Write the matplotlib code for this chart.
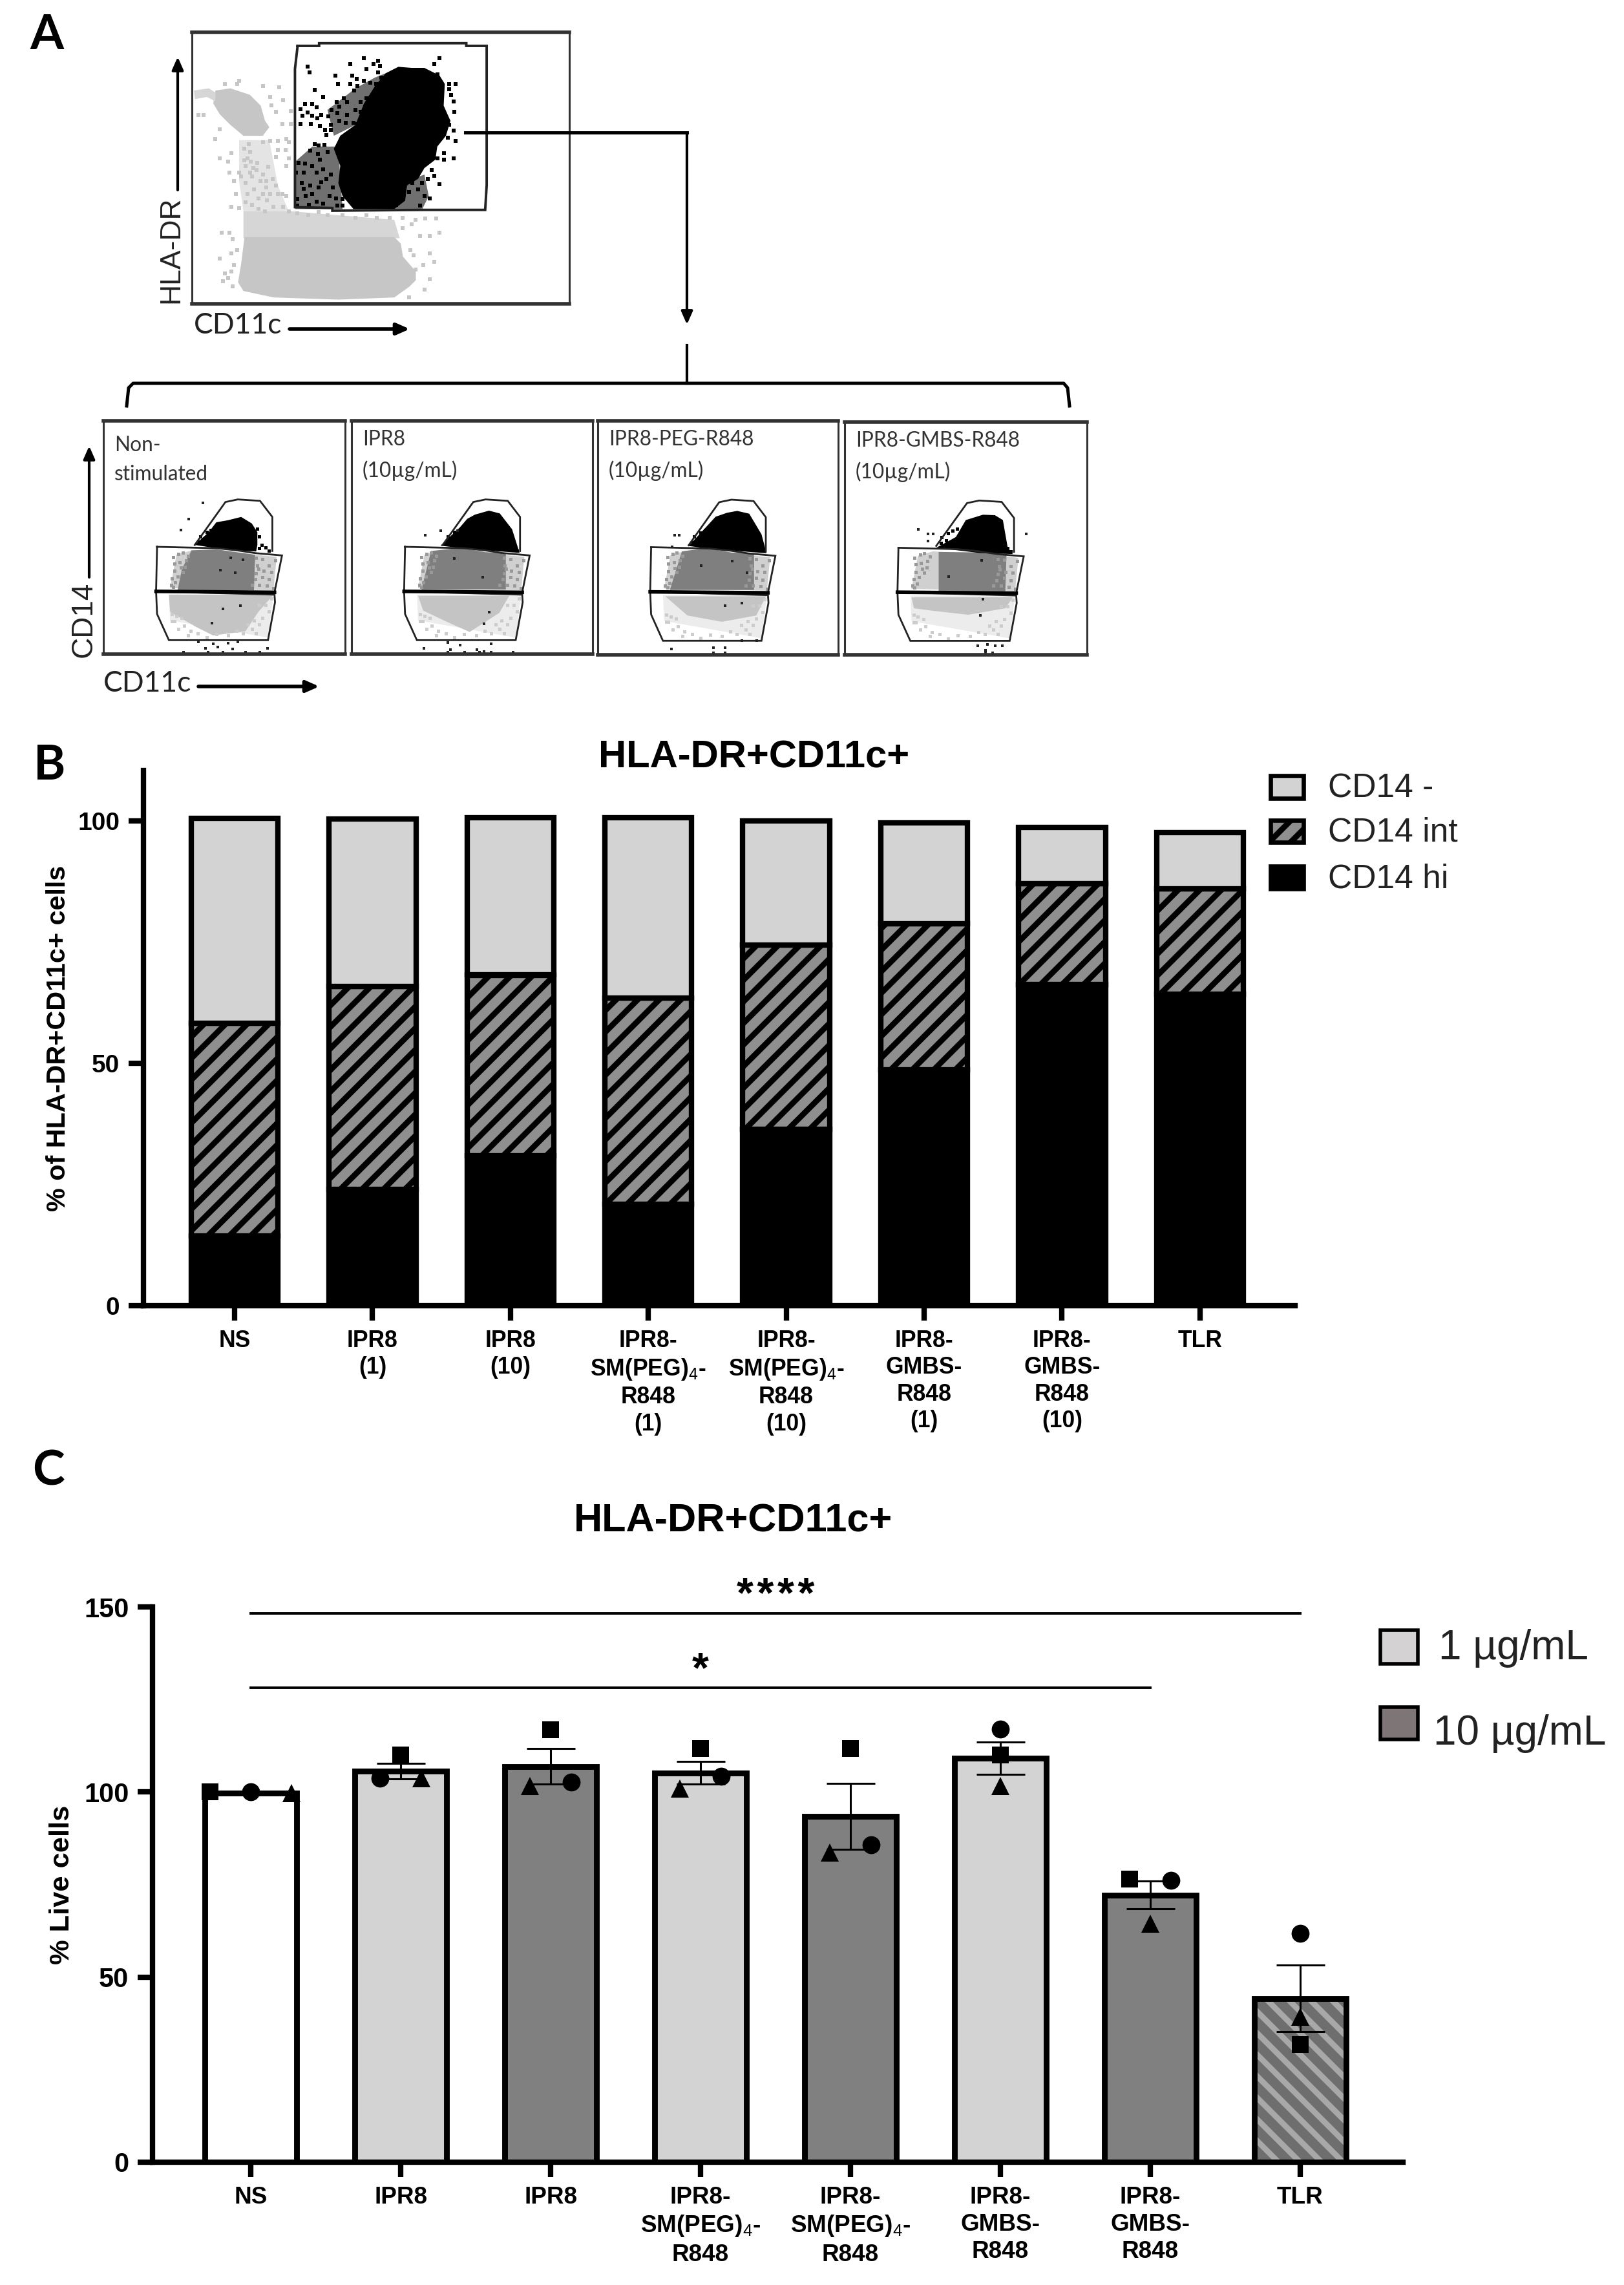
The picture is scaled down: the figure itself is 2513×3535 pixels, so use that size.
"""Multi-panel figure: flow gating (A), stacked CD14 subsets (B), viability (C)."""

import matplotlib
matplotlib.use("Agg")
import matplotlib.pyplot as plt
from matplotlib.patches import Rectangle

W, H = 2513, 3535
DPI = 200

plt.rcParams["font.family"] = ["Liberation Sans", "DejaVu Sans"]
plt.rcParams["mathtext.fontset"] = "custom"
plt.rcParams["mathtext.rm"] = "Liberation Sans"
plt.rcParams["hatch.linewidth"] = 3.2

# ── PANEL B DATA ─────────────────────────────────────────────────────────
b_labels = ["NS", "IPR8\n(1)", "IPR8\n(10)",
            "IPR8-\nSM(PEG)$_{\\mathrm{4}}$-\nR848\n(1)",
            "IPR8-\nSM(PEG)$_{\\mathrm{4}}$-\nR848\n(10)",
            "IPR8-\nGMBS-\nR848\n(1)", "IPR8-\nGMBS-\nR848\n(10)", "TLR"]
cd14_hi = [14.4, 24.0, 30.9, 21.0, 36.4, 48.6, 66.2, 64.3]
cd14_int = [43.8, 41.8, 37.3, 42.5, 38.0, 30.2, 20.8, 21.7]
cd14_neg = [42.3, 34.6, 32.4, 37.1, 25.6, 20.8, 11.6, 11.6]
b_legend = ["CD14 -", "CD14 int", "CD14 hi"]

# ── PANEL C DATA ─────────────────────────────────────────────────────────
c_labels = ["NS", "IPR8", "IPR8", "IPR8-\nSM(PEG)$_{\\mathrm{4}}$-\nR848",
            "IPR8-\nSM(PEG)$_{\\mathrm{4}}$-\nR848", "IPR8-\nGMBS-\nR848",
            "IPR8-\nGMBS-\nR848", "TLR"]
live_mean = [99.7, 105.6, 106.9, 105.2, 93.4, 109.2, 72.2, 44.2]
live_sem = [0.0, 2.1, 4.8, 3.05, 8.95, 4.35, 3.8, 9.0]
live_square = [100.0, 110.0, 116.8, 111.7, 111.7, 110.0, 76.5, 31.7]
live_circle = [100.0, 103.7, 102.6, 104.3, 85.7, 117.0, 76.2, 61.9]
live_triangle = [99.7, 103.7, 101.6, 100.9, 83.7, 101.6, 64.5, 39.3]
c_fill = ["white", "light", "dark", "light", "dark", "light", "dark", "tlr"]
sig_pairs = [(0, 7, 148.3, "*\u200a*\u200a*\u200a*"), (0, 6, 128.2, "*")]

# horizontal swarm offset of each replicate, square / circle / triangle
swarm_square = [-0.27, 0, 0, 0, 0, 0, -0.14, 0]
swarm_circle = [0, -0.14, 0.14, 0.14, 0.14, 0, 0.14, 0]
swarm_triangle = [0.27, 0.14, -0.14, -0.14, -0.14, 0, 0, 0]

# ── PANEL A DATA (outlines, plot units 0-100) ────────────────────────────
top_gate = [(28, 95), (33.7, 95), (33.7, 96), (72.7, 96), (72.7, 95), (78.1, 95), (78.1, 43.7),
            (77.7, 34.6), (61.4, 34.6), (37.2, 34.3), (37.2, 35.3), (27.3, 35.6), (27.3, 86.5)]
top_black = [(54.7, 87.3), (58.2, 86.9), (61.6, 86.9), (65.6, 84.1), (67, 81), (66.7, 73), (68.5, 67.4),
             (67.3, 61.9), (65, 57.9), (64.5, 53.1), (61.6, 50), (59.9, 46), (57, 43.6), (56.5, 38),
             (53.6, 34.9), (42.8, 34.9), (39.9, 39.7), (38.8, 44.4), (39.3, 50.8), (37.6, 57.1),
             (39.3, 61.9), (43.3, 65.9), (45.6, 73.8), (48.5, 80.2), (51.3, 84.9)]

# half-filled speckle zones beside the black cloud, crop-pixel readings (converted in crop_black)
black_mix_low = [(100, 470), (220, 470), (240, 760), (20, 760), (20, 540)]
black_mix_up = [(300, 200), (390, 150), (440, 130), (340, 300), (300, 370), (200, 420), (170, 300)]
black_mix_right = [(480, 650), (620, 600), (640, 700), (610, 760), (480, 760)]

# loose events around the black cloud, crop-pixel readings
black_dots = [(340, 60), (275, 88), (78, 100), (88, 125), (350, 112), (385, 88), (405, 72), (415, 95), (405, 125),
              (208, 140), (285, 140), (305, 155), (340, 165), (218, 180), (275, 180), (110, 207), (150, 240),
              (245, 245), (65, 272), (98, 272), (120, 288), (45, 298), (55, 328), (78, 312), (98, 328), (122, 340),
              (142, 325), (45, 365), (92, 365), (135, 375), (160, 392), (185, 368), (185, 392), (165, 418), (212, 265),
              (190, 300), (175, 330), (225, 285), (260, 265), (215, 315), (225, 350), (260, 325), (255, 360), (290, 360),
              (310, 365), (330, 392), (262, 418), (295, 210), (310, 190), (370, 175), (395, 180), (420, 150), (440, 155),
              (430, 205), (380, 230), (350, 245), (325, 265), (345, 285), (300, 300), (325, 310), (350, 325), (385, 285),
              (110, 460), (130, 465), (155, 462), (90, 490), (125, 505), (135, 530), (170, 495), (35, 545), (65, 550),
              (100, 560), (25, 590), (60, 590), (120, 590), (150, 575), (185, 600), (165, 620), (140, 635), (50, 640),
              (90, 650), (60, 665), (130, 660), (195, 660), (180, 700), (30, 715), (70, 700), (100, 690), (120, 725),
              (30, 745), (85, 740), (150, 735), (210, 710), (215, 745), (240, 715), (240, 745), (285, 700), (310, 745),
              (360, 730), (410, 745), (470, 700), (510, 680), (490, 740), (550, 680), (590, 670), (565, 640), (610, 640),
              (635, 620), (620, 700), (645, 710), (600, 745), (655, 580), (665, 605), (690, 645), (640, 525), (680, 525),
              (710, 530), (755, 525), (710, 500), (680, 450), (700, 430), (730, 430), (765, 445), (755, 395), (735, 370),
              (690, 380), (760, 310), (755, 260), (745, 230), (735, 205), (735, 180), (765, 180), (690, 60), (665, 88),
              (680, 135)]

# light gray cloud, crop-pixel readings (converted in crop_gray)
gray_low = [(235, 950), (250, 860), (265, 740), (960, 740), (990, 770), (1000, 830), (1060, 900), (1060, 940),
            (1030, 970), (960, 1020), (700, 1030), (400, 1020), (260, 990)]
gray_fringe = [(260, 620), (480, 620), (960, 660), (985, 745), (260, 745)]
gray_up = [(130, 60), (200, 50), (290, 80), (340, 130), (360, 200), (380, 230), (350, 270), (260, 270),
           (200, 220), (150, 170), (120, 120)]
gray_arm = [(30, 60), (100, 50), (130, 70), (130, 110), (90, 90), (35, 100)]
gray_neck = [(240, 290), (380, 290), (420, 500), (470, 620), (260, 620), (240, 480)]
gray_dots = [(50, 175), (75, 175), (150, 375), (130, 285), (205, 350), (190, 390), (195, 440), (240, 440), (250, 460),
             (270, 490), (215, 480), (225, 540), (205, 600), (240, 605), (265, 330), (285, 310), (290, 345), (280, 375),
             (265, 385), (270, 410), (295, 390), (325, 395), (305, 420), (290, 440), (320, 430), (300, 460), (350, 450),
             (340, 480), (365, 480), (395, 470), (410, 500), (420, 540), (365, 510), (385, 540), (350, 540), (310, 520),
             (280, 540), (330, 560), (370, 570), (400, 600), (440, 540), (460, 550), (445, 600), (470, 620), (360, 620),
             (330, 610), (300, 590), (270, 580), (410, 370), (375, 415), (470, 375), (460, 410), (460, 285), (470, 300),
             (420, 295), (385, 295), (350, 300), (420, 335), (455, 335), (440, 215), (445, 105), (480, 155), (480, 215),
             (425, 45), (350, 40), (240, 15), (175, 30), (150, 240), (230, 30), (385, 90), (390, 130), (410, 160),
             (510, 630), (560, 640), (610, 625), (650, 640), (720, 640), (780, 650), (830, 640), (880, 650), (940, 650),
             (1000, 650), (1060, 660), (1105, 655), (1155, 655), (1040, 680), (1000, 700), (1080, 735), (1125, 735),
             (1170, 720), (1035, 800), (1050, 825), (1125, 815), (1145, 855), (1095, 870), (1060, 890), (1125, 935),
             (1100, 985), (1030, 1020), (160, 720), (195, 720), (210, 750), (230, 800), (205, 815), (150, 840),
             (215, 870), (205, 900), (175, 910), (165, 945), (190, 930), (210, 970)]

# CD14 gates, shared by the four lower plots
gate_hi = [(37.8, 46.8), (50.5, 65.2), (55.6, 66.3), (64.8, 65.7), (69.9, 58.8), (69.9, 44.2)]
gate_int = [(22.2, 46), (46.7, 45.4), (55.2, 44.5), (62.8, 43.3), (73.9, 42.3), (70.8, 26.5), (21.8, 26.9)]
gate_low = [(21.8, 26.9), (70.8, 25.5), (71, 22.2), (68.1, 6), (27.1, 6), (22.2, 17.2)]

sub_titles = ["Non-\nstimulated", "IPR8\n(10µg/mL)", "IPR8-PEG-R848\n(10µg/mL)", "IPR8-GMBS-R848\n(10µg/mL)"]
sub_title_y = [93.7, 96, 96, 96]
sub_black = [
    [(37.8, 46.8), (43.6, 52.3), (46.7, 56.5), (51.6, 57.4), (57, 58.8), (61.4, 56), (63.7, 52.3), (63.7, 46.8),
     (63.2, 44), (55.2, 44.5), (46.7, 45.4)],
    [(36.9, 46.5), (45, 54.4), (48, 58), (51.2, 59.8), (57, 61.5), (61.5, 60.3), (66.6, 53.5), (69.7, 43.4), (47, 45.2)],
    [(37.8, 46.5), (45.6, 55.2), (49, 59), (53.8, 60.7), (58, 61.5), (63, 60.3), (68.1, 51.5), (70.2, 43.4), (47.6, 45.2)],
    [(37.8, 46), (45.9, 50.6), (50, 57.9), (57.1, 60.2), (62, 60), (65.3, 57.9), (67.3, 46), (69.4, 43.3), (56.1, 43.7)],
]
sub_mid = [
    [(36.5, 44.5), (46.7, 44.9), (62.8, 42.6), (62.3, 27.4), (30.7, 27.4), (32.5, 36.6)],
    [(33, 44.2), (45.4, 45.6), (55.6, 43.7), (64, 43.3), (64, 27.7), (29, 27.7)],
    [(35, 44.2), (45.4, 45.6), (55.6, 43.7), (65, 43.3), (65, 27.7), (30, 27.7)],
    [(38.8, 44.2), (55, 44), (66.8, 43.3), (66.3, 27.3), (38.8, 27.3)],
]
sub_low = [
    [(27.1, 25.5), (70.4, 25.5), (64.1, 18.1), (58.8, 9.8), (45.4, 8), (38.3, 11.7), (27.6, 18.1)],
    [(27.6, 25), (65.4, 25), (61.3, 17.7), (49, 9.5), (39, 14.1), (29.7, 18.7)],
    [(28.1, 25), (70, 25), (65.9, 16.8), (51.6, 14.1), (37.3, 16.8)],
    [(27.6, 24.7), (69.4, 24.7), (66.3, 20), (51, 17.2), (35.7, 19), (28.6, 20)],
]
sub_stray = [
    [(39.3, 5.3), (45.4, 4.4), (51.5, 4.8), (55.6, 5.3), (42.3, 2.6), (47.4, 3), (53.6, 2.1), (33.1, 0.7),
     (43.4, 0.7), (49.5, 0.7), (58.7, 0.7), (64.8, 0.7), (67.9, 2.6), (41.3, 64.8), (35.2, 57.9), (32.1, 53.3),
     (52.6, 41.4), (57.7, 40.5), (48.5, 36), (54.6, 35), (49.5, 19.5), (56.6, 20.9), (45, 13.3)],
    [(40, 5), (45, 4), (58, 4.5), (41, 2), (52, 2), (55, 1), (40, 0.7), (47, 0.7), (53, 0.7), (58, 0.7), (67, 0.7),
     (30, 2.5), (44, 53), (37, 53), (30.6, 51), (42.6, 41), (54.5, 33), (57, 18), (55, 13)],
    [(30.6, 2.5), (48, 3), (53, 3), (48, 0.7), (53, 0.7), (60, 6), (66, 6), (32, 51), (34, 51), (31, 46),
     (43, 38), (56, 40), (62, 35), (60, 22), (53, 21)],
    [(55, 4), (59, 4.5), (62, 4), (65, 4), (58, 2), (58, 0.7), (61, 0.7), (30.5, 54), (34.5, 52), (34.5, 49),
     (36.5, 52), (56.6, 40.5), (43, 33.6), (57, 24), (56, 17), (75, 52)],
]

# loose events inside the gates, crop-pixel readings (converted in crop_sub)
mid_band = [(130, 390), (160, 235), (230, 215), (525, 235), (625, 245), (610, 400)]
low_band = [(125, 420), (610, 420), (585, 620), (130, 540)]
mid_dots = [(145, 245), (170, 230), (190, 225), (150, 275), (175, 270), (205, 260), (150, 310), (180, 295), (140, 345),
            (165, 335), (190, 315), (135, 375), (155, 365), (145, 385), (215, 240), (200, 290), (530, 250), (560, 255),
            (590, 285), (535, 285), (565, 310), (600, 315), (530, 320), (560, 340), (590, 350), (525, 350), (545, 375),
            (580, 380), (510, 375), (610, 390), (540, 300), (620, 260)]
low_dots = [(140, 510), (160, 520), (185, 530), (150, 545), (195, 565), (225, 590), (260, 600), (300, 620), (345, 605),
            (400, 610), (440, 590), (470, 600), (510, 580), (545, 560), (560, 530), (590, 500), (575, 470), (600, 440),
            (545, 470), (520, 540), (490, 560), (140, 545), (170, 580), (215, 610), (530, 600)]
hi_dots = [(270, 150), (290, 165), (300, 130), (320, 120), (340, 110), (350, 150), (535, 115), (545, 150), (555, 190),
           (575, 200), (590, 215), (545, 205), (265, 175)]

LIGHT = "#d3d3d3"
DARK = "#808080"
SPECK = "#c6c6c6"
CALIBRI = ["Lato", "DejaVu Sans"]


def crop_black(pts):
    return [(26.2 + x * 0.0571, 95.24 - y * 0.0794) for x, y in pts]


def crop_gray(pts):
    return [(-1.2 + x * 0.0571, 83.33 - y * 0.0794) for x, y in pts]


def crop_sub(pts):
    return [(16 + x * 0.0891, 64.3 - y * 0.0923) for x, y in pts]


def axes_px(fig, x0, y0, x1, y1):
    """Axes from pixel box, y counted from the top of the image."""
    return fig.add_axes([x0 / W, 1 - y1 / H, (x1 - x0) / W, (y1 - y0) / H])


def fill_poly(ax, pts, **kw):
    xs, ys = zip(*pts)
    return ax.fill(xs, ys, **kw)


def dots(ax, pts, color, ms=1.9):
    xs, ys = zip(*pts)
    ax.plot(xs, ys, ls="none", marker="s", ms=ms, color=color, mew=0)


def outline(ax, pts, lw=1.0):
    xs, ys = zip(*(list(pts) + [pts[0]]))
    ax.plot(xs, ys, color="#222222", lw=lw, solid_joinstyle="miter")


def dot_axes(fig, box):
    ax = axes_px(fig, *box)
    ax.set_xlim(0, 100)
    ax.set_ylim(0, 100)
    ax.set_xticks([])
    ax.set_yticks([])
    for side, sp in ax.spines.items():
        sp.set_color("#333333")
        sp.set_linewidth(2.0 if side in ("top", "bottom") else 1.1)
    return ax


def draw_top_dotplot(fig):
    ax = dot_axes(fig, (297, 50, 881, 470))
    fill_poly(ax, crop_gray(gray_neck), color="#e4e4e4", lw=0)
    fill_poly(ax, crop_gray(gray_fringe), color="#d6d6d6", lw=0)
    fill_poly(ax, crop_gray(gray_low), color=SPECK, lw=0)
    fill_poly(ax, crop_gray(gray_up), color=SPECK, lw=0)
    fill_poly(ax, crop_gray(gray_arm), color="#d6d6d6", lw=0)
    dots(ax, crop_gray(gray_dots), SPECK, ms=2.0)
    for zone in (black_mix_low, black_mix_up, black_mix_right):
        fill_poly(ax, crop_black(zone), color="#707070", lw=0)
    fill_poly(ax, top_black, color="black", lw=0)
    dots(ax, crop_black(black_dots), "black", ms=2.2)
    outline(ax, top_gate, lw=1.4)


def draw_sub_plot(fig, box, i):
    ax = dot_axes(fig, box)
    fill_poly(ax, crop_sub(low_band), color="#ececec", lw=0)
    fill_poly(ax, crop_sub(mid_band), color="#d0d0d0", lw=0)
    fill_poly(ax, sub_low[i], color="#c4c4c4", lw=0)
    dots(ax, crop_sub(low_dots), "#cccccc", ms=1.8)
    fill_poly(ax, sub_mid[i], color="#7f7f7f", lw=0)
    dots(ax, crop_sub(mid_dots), "#999999", ms=1.8)
    fill_poly(ax, sub_black[i], color="black", lw=0)
    dots(ax, crop_sub(hi_dots), "black", ms=1.8)
    outline(ax, gate_int)
    outline(ax, gate_low)
    ax.plot([gate_int[-1][0], gate_int[-2][0]], [gate_int[-1][1], gate_int[-2][1]], color="black", lw=2.0)
    xs, ys = zip(*gate_hi)
    ax.plot(xs, ys, color="#222222", lw=1.0)
    dots(ax, sub_stray[i], "#222222", ms=1.3)
    ax.text(4.5, sub_title_y[i], sub_titles[i], va="top", ha="left", fontsize=11.4, family=CALIBRI,
            color="#333333", linespacing=1.65)


def style_axis(ax):
    ax.spines["top"].set_visible(False)
    ax.spines["right"].set_visible(False)
    ax.spines["left"].set_linewidth(3)
    ax.spines["bottom"].set_linewidth(3)
    ax.tick_params(axis="both", width=3, length=8.2, pad=5)


def draw_panel_b(fig):
    x_c, x_step = 363.0, 213.4
    y0, per_unit = 2020.0, 7.5
    ax = axes_px(fig, 222, 1192, 2004, y0)
    ax.set_xlim((222 - x_c) / x_step, (2004 - x_c) / x_step)
    ax.set_ylim(0, (y0 - 1192) / per_unit)
    xs = list(range(len(b_labels)))
    width = 0.63
    base_int = cd14_hi
    base_neg = [a + b for a, b in zip(cd14_hi, cd14_int)]
    ax.bar(xs, cd14_hi, width, color="black", edgecolor="black", lw=3)
    ax.bar(xs, cd14_int, width, bottom=base_int, facecolor="#8f8f8f", edgecolor="black", hatch="//", lw=3)
    ax.bar(xs, cd14_neg, width, bottom=base_neg, facecolor=LIGHT, edgecolor="black", lw=3)
    ax.set_xticks(xs)
    ax.set_xticklabels(b_labels, fontsize=12.8, fontweight="bold", linespacing=1.24)
    ax.set_yticks([0, 50, 100])
    ax.set_yticklabels(["0", "50", "100"], fontsize=14, fontweight="bold")
    style_axis(ax)
    ax.set_ylabel("% of HLA-DR+CD11c+ cells", fontsize=14.9, fontweight="bold", labelpad=4)


def draw_panel_c(fig):
    x_c, x_step = 388.0, 232.0
    ax = axes_px(fig, 236, 2486, 2171, 3345)
    ax.set_xlim((236 - x_c) / x_step, (2171 - x_c) / x_step)
    ax.set_ylim(0, 150)
    xs = list(range(len(c_labels)))
    width = 0.615
    for x, val, kind in zip(xs, live_mean, c_fill):
        if kind == "tlr":
            ax.bar(x, val, width, facecolor="#6e6e6e", edgecolor="#a8a8a8", hatch="\\\\", lw=0)
            ax.bar(x, val, width, fill=False, edgecolor="black", lw=3.2)
        else:
            face = {"white": "white", "light": LIGHT, "dark": DARK}[kind]
            ax.bar(x, val, width, facecolor=face, edgecolor="black", lw=3.2)
    ax.errorbar(xs[1:], live_mean[1:], yerr=live_sem[1:], fmt="none", ecolor="black",
                elinewidth=1.1, capsize=13.5, capthick=1.1, zorder=4)
    for vals, off, mk, size in [(live_square, swarm_square, "s", 9.5),
                                (live_circle, swarm_circle, "o", 10.0),
                                (live_triangle, swarm_triangle, "^", 10.0)]:
        ax.plot([x + d for x, d in zip(xs, off)], vals, ls="none", marker=mk, ms=size,
                color="black", mew=0, zorder=5)
    for a, b, y, stars in sig_pairs:
        ax.plot([a, b], [y, y], color="black", lw=1.4, clip_on=False)
    ax.text(3.5, 149.8, sig_pairs[0][3], ha="center", va="baseline", fontsize=24, fontweight="bold")
    ax.text(3.0, 129.7, sig_pairs[1][3], ha="center", va="baseline", fontsize=24, fontweight="bold")
    ax.set_xticks(xs)
    ax.set_xticklabels(c_labels, fontsize=13.3, fontweight="bold", linespacing=1.27)
    ax.set_yticks([0, 50, 100, 150])
    ax.set_yticklabels(["0", "50", "100", "150"], fontsize=15, fontweight="bold")
    style_axis(ax)
    ax.set_ylabel("% Live cells", fontsize=15.6, fontweight="bold", labelpad=5)


def arrow(ov, start, end, lw=1.5, head=12):
    ov.annotate("", xy=end, xytext=start,
                arrowprops=dict(arrowstyle="-|>,head_width=0.22,head_length=0.5", lw=lw, color="black",
                                shrinkA=0, shrinkB=0, mutation_scale=head))


def draw_overlay(ov):
    # panel letters
    for txt, x, y in [("A", 46, 54), ("B", 52, 1184), ("C", 50, 2276)]:
        ov.text(x, y, txt, fontsize=27, fontweight="bold", family=CALIBRI, ha="left", va="center")

    # panel A axis names and arrows
    ov.text(265, 386, "HLA-DR", rotation=90, fontsize=16, ha="center", va="center", color="#222222")
    arrow(ov, (275, 294), (275, 88), lw=1.5)
    ov.text(300, 504, "CD11c", fontsize=16, family=CALIBRI, ha="left", va="center", color="#222222")
    arrow(ov, (448, 509), (634, 509), lw=2.0)
    ov.text(130, 958, "CD14", rotation=90, fontsize=16.5, ha="center", va="center", color="#222222")
    arrow(ov, (138, 893), (138, 690), lw=1.5)
    ov.text(160, 1058, "CD11c", fontsize=16, family=CALIBRI, ha="left", va="center", color="#222222")
    arrow(ov, (307, 1062), (494, 1062), lw=2.0)

    # gating connector and bracket
    ov.plot([720, 1063], [205, 205], color="black", lw=1.8, solid_joinstyle="miter")
    arrow(ov, (1063, 205), (1063, 502), lw=1.5)
    ov.plot([1063, 1063], [534, 593], color="black", lw=1.5)
    ov.plot([196, 199, 206, 1646, 1652, 1655], [628, 600, 593, 593, 600, 628], color="black", lw=1.8)

    # panel titles
    ov.text(1167, 1172, "HLA-DR+CD11c+", fontsize=21.5, fontweight="bold", ha="center", va="center")
    ov.text(1134, 2354, "HLA-DR+CD11c+", fontsize=22, fontweight="bold", ha="center", va="center")

    # panel B legend
    for (y0, y1, txt, face, hatch) in [(1200, 1235, b_legend[0], LIGHT, None),
                                       (1269, 1303, b_legend[1], "#8f8f8f", "//"),
                                       (1340, 1375, b_legend[2], "black", None)]:
        ov.add_patch(Rectangle((1966, y0), 51, y1 - y0, facecolor=face, edgecolor="black", lw=2.4, hatch=hatch))
        ov.text(2055, (y0 + y1) / 2 + 2, txt, fontsize=18.6, ha="left", va="center", color="#222222")

    # panel C legend
    ov.add_patch(Rectangle((2136, 2522), 58, 52, facecolor="#d4d2d3", edgecolor="black", lw=2))
    ov.text(2226, 2550, "1 µg/mL", fontsize=23, ha="left", va="center", color="#222222")
    ov.add_patch(Rectangle((2136, 2641), 58, 50, facecolor="#7d7576", edgecolor="black", lw=2))
    ov.text(2218, 2682, "10 µg/mL", fontsize=23, ha="left", va="center", color="#222222")


# ── MAIN ─────────────────────────────────────────────────────────────────

if __name__ == "__main__":
    fig = plt.figure(figsize=(W / DPI, H / DPI), dpi=DPI, facecolor="white")

    draw_top_dotplot(fig)
    sub_boxes = [(160, 651, 534, 1012), (544, 651, 917, 1012), (925, 651, 1297, 1013), (1307, 653, 1682, 1013)]
    for i, box in enumerate(sub_boxes):
        draw_sub_plot(fig, box, i)
    draw_panel_b(fig)
    draw_panel_c(fig)

    ov = fig.add_axes([0, 0, 1, 1], facecolor="none")
    ov.set_xlim(0, W)
    ov.set_ylim(H, 0)
    ov.axis("off")
    draw_overlay(ov)

    fig.savefig("out.png", dpi=DPI)
    plt.close(fig)
